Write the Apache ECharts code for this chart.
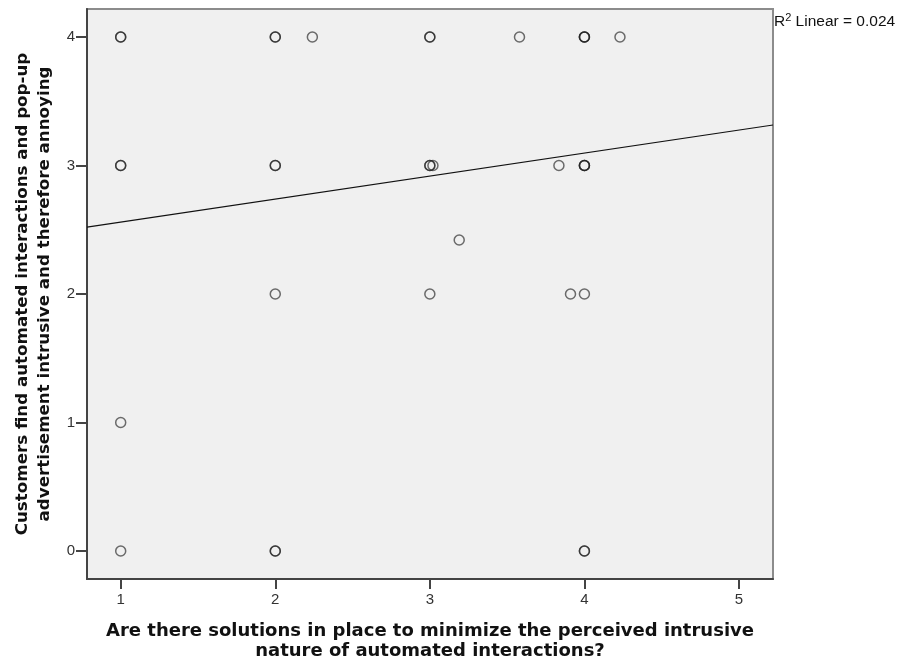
<!DOCTYPE html>
<html>
<head>
<meta charset="utf-8">
<script src="https://cdn.jsdelivr.net/npm/echarts@6/dist/echarts.min.js"></script>
<style>html,body{margin:0;padding:0;background:#fff;}#c{width:898px;height:661px;}</style>
</head>
<body>
<div id="c"></div>
<script>
// Observed points (x = solutions in place, y = customers find intrusive); repeats = overlapping cases
const xValues = [1,1,2,2,2.24,3,3,3.58,4,4,4,4.23,
                 1,1,2,2,3,3,3.02,3.835,4,4,4,
                 3.19,
                 2,3,3.91,4,
                 1,
                 1,2,2,4,4];
const yValues = [4,4,4,4,4,4,4,4,4,4,4,4,
                 3,3,3,3,3,3,3,3,3,3,3,
                 2.42,
                 2,2,2,2,
                 1,
                 0,0,0,0,0];
const xTicks = [1,2,3,4,5];
const yTicks = [0,1,2,3,4];
const fitCoef = [2.381, 0.179]; // intercept, slope
const rSquared = '0.024';
const xRange = [0.782, 5.22];
const yRange = [-0.218, 4.218];
const xTitle = 'Are there solutions in place to minimize the perceived intrusive\nnature of automated interactions?';
const yTitle = 'Customers find automated interactions and pop-up\nadvertisement intrusive and therefore annoying';

const points = xValues.map((x,i)=>[x, yValues[i]]);
const fitLine = xRange.map(x=>[x, fitCoef[0] + fitCoef[1]*x]);

const chart = echarts.init(document.getElementById('c'));
chart.setOption({
  animation:false,
  backgroundColor:'#ffffff',
  grid:{left:87,right:125,top:9,bottom:82,containLabel:false,outerBoundsMode:'none',
        show:true,backgroundColor:'#f0f0f0',borderColor:'#8c8c8c',borderWidth:2},
  xAxis:{
    type:'value',min:xRange[0],max:xRange[1],
    name:xTitle,nameLocation:'middle',nameGap:42,
    nameTextStyle:{fontFamily:'DejaVu Sans',fontWeight:'bold',fontSize:18,color:'#111',lineHeight:20},
    axisLine:{show:true,onZero:false,lineStyle:{color:'#444',width:2}},
    axisTick:{show:true,inside:false,length:10,lineStyle:{color:'#444',width:2},customValues:xTicks},
    axisLabel:{color:'#333',fontFamily:'Liberation Sans',fontSize:15,margin:13,customValues:xTicks},
    splitLine:{show:false}
  },
  yAxis:{
    type:'value',min:yRange[0],max:yRange[1],
    name:yTitle,nameLocation:'middle',nameGap:31,nameRotate:90,
    nameTextStyle:{fontFamily:'DejaVu Sans',fontWeight:'bold',fontSize:16.7,color:'#111',lineHeight:22},
    axisLine:{show:true,onZero:false,lineStyle:{color:'#444',width:2}},
    axisTick:{show:true,inside:false,length:11,lineStyle:{color:'#444',width:2},customValues:yTicks},
    axisLabel:{color:'#333',fontFamily:'Liberation Sans',fontSize:15,margin:12,customValues:yTicks},
    splitLine:{show:false}
  },
  series:[
    {
      type:'scatter',data:points,symbol:'circle',symbolSize:10,
      itemStyle:{color:'rgba(0,0,0,0)',borderColor:'rgba(30,30,30,0.8)',borderWidth:1.5},
      z:3
    },
    {
      type:'line',data:fitLine,symbol:'none',
      lineStyle:{color:'#111',width:1.2},z:4
    }
  ],
  graphic:[{
    type:'text',left:774,top:12,
    style:{
      text:'{b|R}{s|2}{b| Linear = '+rSquared+'}',
      rich:{
        b:{fontFamily:'Liberation Sans',fontSize:15.5,fill:'#111',verticalAlign:'bottom'},
        s:{fontFamily:'Liberation Sans',fontSize:11,fill:'#111',verticalAlign:'top',padding:[0,0,7,0]}
      }
    }
  }]
});
</script>
</body>
</html>
